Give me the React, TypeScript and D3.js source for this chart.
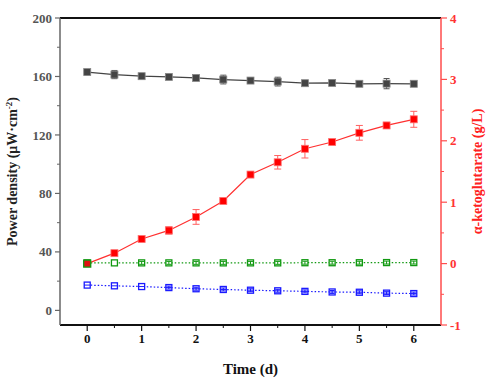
import React from "react";
import * as d3 from "d3";

const times = [0, 0.5, 1, 1.5, 2, 2.5, 3, 3.5, 4, 4.5, 5, 5.5, 6];
const powerDensity = [163, 161.3, 160.2, 159.7, 159, 157.9, 157.2, 156.5, 155.4, 155.6, 155, 155.1, 155];
const powerErr = [1.2, 2.8, 1, 1, 1, 3, 1, 3, 1.5, 1, 1, 3.5, 1];
const akg = [0, 0.17, 0.4, 0.54, 0.76, 1.02, 1.45, 1.65, 1.87, 1.98, 2.13, 2.25, 2.35];
const akgErr = [0.02, 0.03, 0.03, 0.06, 0.12, 0.03, 0.04, 0.11, 0.15, 0.03, 0.12, 0.05, 0.13];
const greenVals = [32.5, 32.5, 32.5, 32.5, 32.5, 32.5, 32.5, 32.5, 32.6, 32.6, 32.6, 32.7, 32.7];
const greenErr = [0, 0, 1, 1, 1, 1, 1, 1, 1, 1, 1, 1, 1];
const blueVals = [17.3, 16.8, 16.3, 15.6, 14.8, 14.3, 13.8, 13.4, 13, 12.6, 12.4, 11.8, 11.5];
const blueErr = [0, 0, 0, 1, 1, 1, 1, 1, 1, 1, 1, 1, 1];
const leftTicks = [0, 40, 80, 120, 160, 200];
const rightTicks = [-1, 0, 1, 2, 3, 4];
const xTicks = [0, 1, 2, 3, 4, 5, 6];

const W = 492, H = 383;
const L = 60, R = 441, T = 18, B = 325;
const font = "'Liberation Serif', 'Times New Roman', serif";

export default function App() {
  const x = d3.scaleLinear().domain([-0.5, 6.5]).range([L, R]);
  const yL = d3.scaleLinear().domain([-10, 200]).range([B, T]);
  const yR = d3.scaleLinear().domain([-1, 4]).range([B, T]);
  const ms = 7;

  const lineL = (vals: number[]) =>
    d3.line<number>().x((_, i) => x(times[i])).y((v) => yL(v))(vals) || "";
  const lineR = d3.line<number>().x((_, i) => x(times[i])).y((v) => yR(v))(akg) || "";

  const errBars = (vals: number[], errs: number[], y: (v: number) => number, color: string, cap: number, key: string) =>
    vals.map((v, i) => {
      if (!errs[i]) return null;
      const cx = x(times[i]);
      const y1 = y(v - errs[i]);
      const y2 = y(v + errs[i]);
      return (
        <g key={key + i} stroke={color} strokeWidth={1}>
          <line x1={cx} x2={cx} y1={y1} y2={y2} />
          <line x1={cx - cap} x2={cx + cap} y1={y1} y2={y1} />
          <line x1={cx - cap} x2={cx + cap} y1={y2} y2={y2} />
        </g>
      );
    });

  const leftMinor = d3.range(-0, 201, 20).filter((v) => v % 40 !== 0);
  const rightMinor = d3.range(-0.5, 4, 1);
  const xMinor = d3.range(0.5, 6, 1);

  return (
    <svg width={W} height={H} style={{ position: "absolute", left: 0, top: 0, background: "#fff" }} fontFamily={font}>
      {/* lines */}
      <path d={lineL(powerDensity)} fill="none" stroke="#444" strokeWidth={1.2} />
      <path d={lineL(greenVals)} fill="none" stroke="#119911" strokeWidth={1.2} strokeDasharray="1.5,2" />
      <path d={lineL(blueVals)} fill="none" stroke="#1a1aff" strokeWidth={1.2} strokeDasharray="1.5,2" />
      <path d={lineR} fill="none" stroke="#ff3030" strokeWidth={1.2} />

      {/* gray markers */}
      {errBars(powerDensity, powerErr, yL, "#555", 3, "pe")}
      {powerDensity.map((v, i) => (
        <rect key={"p" + i} x={x(times[i]) - ms / 2} y={yL(v) - ms / 2} width={ms} height={ms}
          fill="#444" stroke="#888" strokeWidth={0.8} />
      ))}

      {/* green markers */}
      {greenVals.map((v, i) => (
        <rect key={"g" + i} x={x(times[i]) - ms / 2 + 0.5} y={yL(v) - ms / 2 + 0.5} width={ms - 1} height={ms - 1}
          fill="#fff" stroke="#119911" strokeWidth={1.3} />
      ))}
      {errBars(greenVals, greenErr, yL, "#119911", 2.5, "ge")}

      {/* blue markers */}
      {blueVals.map((v, i) => (
        <rect key={"b" + i} x={x(times[i]) - ms / 2 + 0.5} y={yL(v) - ms / 2 + 0.5} width={ms - 1} height={ms - 1}
          fill="#fff" stroke="#1a1aff" strokeWidth={1.3} />
      ))}
      {blueVals.map((v, i) => (
        <line key={"bh" + i} x1={x(times[i]) - 3} x2={x(times[i]) + 3} y1={yL(v)} y2={yL(v)} stroke="#1a1aff" strokeWidth={1} />
      ))}
      {errBars(blueVals, blueErr, yL, "#1a1aff", 2.5, "be")}

      {/* red markers */}
      {errBars(akg, akgErr, yR, "#ff6060", 3.5, "re")}
      {akg.map((v, i) => (
        <rect key={"r" + i} x={x(times[i]) - ms / 2} y={yR(v) - ms / 2} width={ms} height={ms}
          fill={i === 0 ? "#e01010" : "#ff0000"} stroke={i === 0 ? "#119911" : "#ff7070"} strokeWidth={i === 0 ? 1.3 : 0.8} />
      ))}

      {/* frame */}
      <line x1={L} x2={R} y1={T} y2={T} stroke="#111" strokeWidth={2} />
      <line x1={L} x2={R} y1={B} y2={B} stroke="#111" strokeWidth={2} />
      <line x1={L} x2={L} y1={T} y2={B} stroke="#666" strokeWidth={1.5} />
      <line x1={R} x2={R} y1={T} y2={B} stroke="#ff4d4d" strokeWidth={1.5} />

      {/* left axis */}
      {leftTicks.map((t) => (
        <g key={"lt" + t}>
          <line x1={L - 5} x2={L} y1={yL(t)} y2={yL(t)} stroke="#666" strokeWidth={1.2} />
          <text x={L - 8} y={yL(t)} dy="0.35em" textAnchor="end" fontSize={13} fontWeight="bold" fill="#555">{t}</text>
        </g>
      ))}
      {leftMinor.map((t) => (
        <line key={"lm" + t} x1={L - 3} x2={L} y1={yL(t)} y2={yL(t)} stroke="#666" strokeWidth={1} />
      ))}
      <text transform={`translate(17,${(T + B) / 2}) rotate(-90)`} textAnchor="middle" fontSize={14} fontWeight="bold" fill="#222">
        Power density (μW·cm<tspan dy="-5" fontSize={9}>-2</tspan><tspan dy="5">)</tspan>
      </text>

      {/* right axis */}
      {rightTicks.map((t) => (
        <g key={"rt" + t}>
          <line x1={R} x2={R + 6} y1={yR(t)} y2={yR(t)} stroke="#ff4d4d" strokeWidth={1.2} />
          <text x={R + 9} y={yR(t)} dy="0.35em" textAnchor="start" fontSize={13} fontWeight="bold" fill="#ff3333">{t}</text>
        </g>
      ))}
      {rightMinor.map((t) => (
        <line key={"rm" + t} x1={R} x2={R + 3} y1={yR(t)} y2={yR(t)} stroke="#ff4d4d" strokeWidth={1} />
      ))}
      <text transform={`translate(482,${(T + B) / 2}) rotate(-90)`} textAnchor="middle" fontSize={14} fontWeight="bold" fill="#ff2020">
        α-ketoglutarate (g/L)
      </text>

      {/* bottom axis */}
      {xTicks.map((t) => (
        <g key={"xt" + t}>
          <line x1={x(t)} x2={x(t)} y1={B} y2={B + 6} stroke="#111" strokeWidth={1.2} />
          <text x={x(t)} y={B + 18} textAnchor="middle" fontSize={13} fontWeight="bold" fill="#111">{t}</text>
        </g>
      ))}
      {xMinor.map((t) => (
        <line key={"xm" + t} x1={x(t)} x2={x(t)} y1={B} y2={B + 3} stroke="#111" strokeWidth={1} />
      ))}
      <text x={(L + R) / 2} y={374} textAnchor="middle" fontSize={15} fontWeight="bold" fill="#111">Time (d)</text>
    </svg>
  );
}
